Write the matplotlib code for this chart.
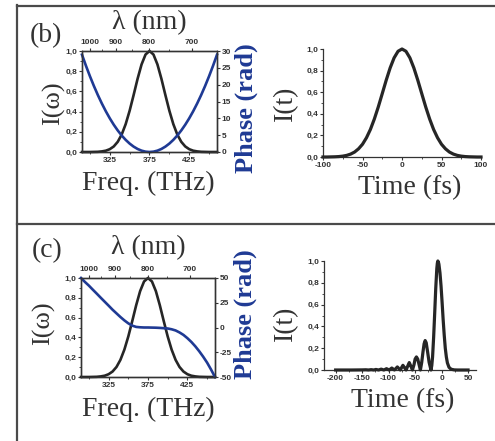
import matplotlib
matplotlib.use('Agg')
import matplotlib.pyplot as plt
from matplotlib.ticker import FixedLocator, MultipleLocator, FuncFormatter
from matplotlib.lines import Line2D

# spectral axis (THz) shared by both spectra
freq = [290, 295, 300, 305, 310, 315, 320, 325, 330, 335, 340, 345, 350, 355, 360, 365, 370,
        375, 380, 385, 390, 395, 400, 405, 410, 415, 420, 425, 430, 435, 440, 445, 450, 455, 460]
spectrum = [0.0, 0.0, 0.0, 0.001, 0.002, 0.006, 0.013, 0.028, 0.055, 0.101, 0.173, 0.276, 0.409,
            0.564, 0.725, 0.867, 0.965, 1.0, 0.965, 0.867, 0.725, 0.564, 0.409, 0.276, 0.173,
            0.101, 0.055, 0.028, 0.013, 0.006, 0.002, 0.001, 0.0, 0.0, 0.0]
phase_b = [28.9, 25.6, 22.5, 19.6, 16.9, 14.4, 12.1, 10.0, 8.1, 6.4, 4.9, 3.6, 2.5, 1.6, 0.9, 0.4,
           0.1, 0.0, 0.1, 0.4, 0.9, 1.6, 2.5, 3.6, 4.9, 6.4, 8.1, 10.0, 12.1, 14.4, 16.9, 19.6,
           22.5, 25.6, 28.9]
phase_c = [50.0, 46.0, 42.3, 38.2, 34.2, 30.1, 26.1, 22.1, 18.0, 14.3, 10.6, 7.2, 4.2, 1.9, 0.6,
           0.2, 0.0, 0.0, -0.1, -0.2, -0.4, -0.7, -1.0, -1.8, -3.0, -5.0, -7.5, -10.8, -14.6,
           -19.0, -24.0, -29.5, -35.5, -42.5, -50.0]

# temporal profiles (fs)
t_b = [-100, -95, -90, -85, -80, -75, -70, -65, -60, -55, -50, -45, -40, -35, -30, -25, -20, -15,
       -10, -5, 0, 5, 10, 15, 20, 25, 30, 35, 40, 45, 50, 55, 60, 65, 70, 75, 80, 85, 90, 95, 100]
i_b = [0.0, 0.0, 0.001, 0.002, 0.004, 0.008, 0.015, 0.027, 0.046, 0.076, 0.118, 0.178, 0.255,
       0.352, 0.464, 0.587, 0.711, 0.825, 0.918, 0.979, 1.0, 0.979, 0.918, 0.825, 0.711, 0.587,
       0.464, 0.352, 0.255, 0.178, 0.118, 0.076, 0.046, 0.027, 0.015, 0.008, 0.004, 0.002, 0.001,
       0.0, 0.0]
t_c = [-200, -170, -150, -143, -138, -133, -128, -124, -119, -114, -109, -104, -99, -94, -89,
       -83.5, -78, -75.5, -73, -70, -67, -64, -61, -58, -55, -52, -50, -47.5, -45, -42.5, -40,
       -37.5, -35, -33, -31, -29, -26.5, -23.5, -20, -18.5, -17, -15, -13, -11, -9, -8, -7, -6,
       -5, -3, -1, 1, 3, 5, 7, 9, 11, 14, 18, 24, 30, 50]
i_c = [0, 0, 0.001, 0.002, 0, 0.003, 0, 0.005, 0, 0.008, 0, 0.012, 0, 0.018, 0, 0.028, 0, 0.022,
       0.043, 0.022, 0, 0.035, 0.068, 0.035, 0, 0.05, 0.1, 0.12, 0.1, 0.05, 0, 0.07, 0.17, 0.24,
       0.27, 0.25, 0.17, 0.07, 0, 0.04, 0.12, 0.3, 0.52, 0.75, 0.93, 0.98, 1.0, 0.99, 0.97, 0.89,
       0.77, 0.62, 0.46, 0.32, 0.2, 0.12, 0.065, 0.025, 0.007, 0.001, 0, 0]

freq_ticks = [325, 375, 425]
freq_minor = [300, 350, 400, 450]
wl_ticks = [1000, 900, 800, 700]
wl_minor = [950, 850, 750]

W, H = 495, 441
BLACK = '#262626'
BLUE = '#1f3a94'
GREY = '#333333'
SERIF = 'Liberation Serif'

plt.rcParams['font.family'] = 'Liberation Sans'
plt.rcParams['font.weight'] = 'bold'
plt.rcParams['font.size'] = 6
plt.rcParams['axes.unicode_minus'] = False

fig = plt.figure(figsize=(W / 100, H / 100), dpi=100)


def rect(x0, y0, x1, y1):
    return [x0 / W, 1 - y1 / H, (x1 - x0) / W, (y1 - y0) / H]


def label(x, y, s, **kw):
    kw.setdefault('family', SERIF)
    kw.setdefault('fontsize', 19)
    kw.setdefault('color', GREY)
    kw.setdefault('fontweight', 'normal')
    fig.text(x / W, 1 - y / H, s, ha='center', va='center', **kw)


comma = FuncFormatter(lambda v, p: f'{v:.1f}'.replace('.', ','))


def style(ax):
    ax.tick_params(which='both', direction='out', colors=GREY, pad=1)
    ax.tick_params(which='major', length=2.5, width=0.8)
    ax.tick_params(which='minor', length=1.5, width=0.6)
    for s in ax.spines.values():
        s.set_color(GREY)
        s.set_linewidth(0.9)


def freq_panel(box, phase, plim, pticks):
    ax = fig.add_axes(rect(*box))
    ax.plot(freq, spectrum, color=BLACK, lw=1.9, clip_on=False, zorder=3)
    ax.set_xlim(290, 460)
    ax.set_ylim(0, 1)
    ax.xaxis.set_major_locator(FixedLocator(freq_ticks))
    ax.xaxis.set_minor_locator(FixedLocator(freq_minor))
    ax.yaxis.set_major_locator(MultipleLocator(0.2))
    ax.yaxis.set_minor_locator(MultipleLocator(0.1))
    ax.yaxis.set_major_formatter(comma)
    style(ax)

    ax2 = ax.twinx()
    ax2.plot(freq, phase, color=BLUE, lw=1.9, clip_on=False)
    ax2.set_ylim(*plim)
    ax2.yaxis.set_major_locator(FixedLocator(pticks))
    style(ax2)

    ax3 = ax.twiny()
    ax3.set_xlim(290, 460)
    ax3.xaxis.set_major_locator(FixedLocator([299792.458 / w for w in wl_ticks]))
    ax3.xaxis.set_minor_locator(FixedLocator([299792.458 / w for w in wl_minor]))
    ax3.set_xticklabels([str(w) for w in wl_ticks])
    style(ax3)
    return ax


def time_panel(box, t, inten, xlim, xticks):
    ax = fig.add_axes(rect(*box))
    ax.plot(t, inten, color=BLACK, lw=2.3, clip_on=False, zorder=3)
    ax.set_xlim(*xlim)
    ax.set_ylim(0, 1)
    ax.xaxis.set_major_locator(FixedLocator(xticks))
    ax.xaxis.set_minor_locator(MultipleLocator(25))
    ax.yaxis.set_major_locator(MultipleLocator(0.2))
    ax.yaxis.set_minor_locator(MultipleLocator(0.1))
    ax.yaxis.set_major_formatter(comma)
    ax.spines['top'].set_visible(False)
    ax.spines['right'].set_visible(False)
    style(ax)
    return ax


# panel (b)
freq_panel((82, 51, 217, 152), phase_b, (0, 30), [0, 5, 10, 15, 20, 25, 30])
time_panel((323, 49, 481, 157), t_b, i_b, (-100, 100), [-100, -50, 0, 50, 100])
label(46, 36, '(b)', fontsize=20)
label(149, 23, 'λ (nm)', fontsize=20)
label(54, 103, 'I(ω)', rotation=90, fontsize=19)
label(148, 183, 'Freq. (THz)', fontsize=20)
label(246, 108, 'Phase (rad)', rotation=90, fontsize=19, color=BLUE, fontweight='bold')
label(286, 103, 'I(t)', rotation=90, fontsize=20)
label(410, 188, 'Time (fs)', fontsize=20)

# panel (c)
freq_panel((81, 278, 215, 377), phase_c, (-50, 50), [-50, -25, 0, 25, 50])
time_panel((324, 261, 476, 370), t_c, i_c, (-222, 65), [-200, -150, -100, -50, 0, 50])
label(47, 251, '(c)', fontsize=20)
label(148, 248, 'λ (nm)', fontsize=20)
label(44, 323, 'I(ω)', rotation=90, fontsize=19)
label(148, 409, 'Freq. (THz)', fontsize=20)
label(245, 314, 'Phase (rad)', rotation=90, fontsize=19, color=BLUE, fontweight='bold')
label(286, 323, 'I(t)', rotation=90, fontsize=20)
label(403, 401, 'Time (fs)', fontsize=20)

# frame lines around the panels
for xs, ys in [((17, 495), (6, 6)), ((17, 17), (5, 441)), ((17, 495), (224, 224))]:
    fig.add_artist(Line2D([x / W for x in xs], [1 - y / H for y in ys],
                          color='#4a4a4a', lw=1.6, transform=fig.transFigure))

fig.savefig('out.png', dpi=100)
